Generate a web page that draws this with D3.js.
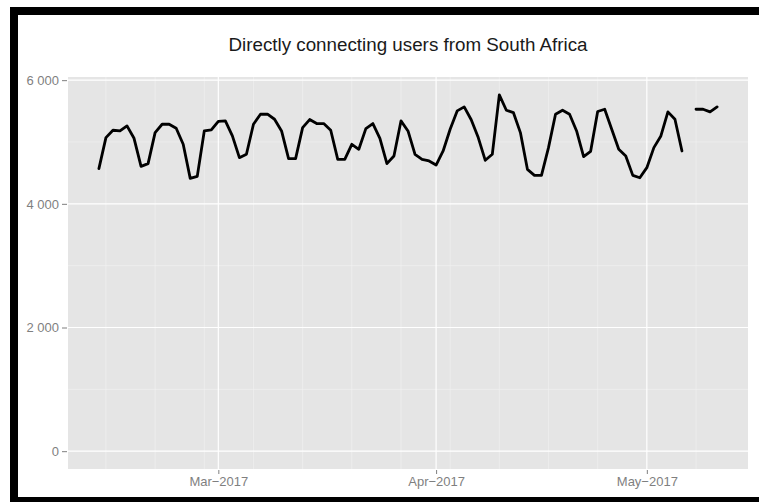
<!DOCTYPE html>
<html>
<head>
<meta charset="utf-8">
<script src="https://cdn.jsdelivr.net/npm/d3@7"></script>
<style>
  html, body { margin: 0; padding: 0; background: #fff; }
  svg { display: block; font-family: "Liberation Sans", Arial, sans-serif; }
</style>
</head>
<body>
<svg id="chart" width="759" height="502"></svg>
<script>
// Daily count of directly connecting users from South Africa, starting 2017-02-12.
// null marks a day with no measurement (the line breaks there).
const firstDay = "2017-02-12";
const users = [
  4569, 5071, 5190, 5179, 5260, 5060, 4606, 4650, 5152, 5287, 5287, 5222, 4963, 4412,
  4444, 5179, 5195, 5335, 5341, 5098, 4747, 4801, 5287, 5449, 5449, 5368, 5179, 4731,
  4731, 5233, 5363, 5298, 5298, 5190, 4720, 4720, 4963, 4882, 5217, 5298, 5060, 4650,
  4774, 5341, 5179, 4801, 4720, 4693, 4628, 4855, 5206, 5503, 5568, 5360, 5071, 4704,
  4801, 5763, 5514, 5476, 5152, 4558, 4460, 4460, 4909, 5449, 5514, 5449, 5179, 4763,
  4850, 5493, 5530, 5206, 4882, 4774, 4460, 4422, 4585, 4909, 5098, 5487, 5368, 4855,
  null, 5530, 5530, 5487, 5568
];
const yMajorTicks = [0, 2000, 4000, 6000];
const yMinorTicks = [1000, 3000, 5000];
const xMonthTicks = ["2017-03-01", "2017-04-01", "2017-05-01"];
const xWeekTicks = ["2017-02-13", "2017-02-20", "2017-02-27", "2017-03-06", "2017-03-13",
  "2017-03-20", "2017-03-27", "2017-04-03", "2017-04-10", "2017-04-17", "2017-04-24",
  "2017-05-08"];
const chartTitle = "Directly connecting users from South Africa";

const parse = d3.utcParse("%Y-%m-%d");
const start = parse(firstDay);
const series = users.map((v, i) => ({ date: d3.utcDay.offset(start, i), v }));

const svg = d3.select("#chart");
const W = 759, H = 502;

// outer frame
svg.append("rect").attr("width", W).attr("height", H).attr("fill", "#fff");
svg.append("rect")
  .attr("x", 14).attr("y", 11).attr("width", 780).attr("height", 490)
  .attr("fill", "#fff").attr("stroke", "#000").attr("stroke-width", 8);

const panel = { left: 68, right: 748, top: 77, bottom: 469 };

// ggplot-style 5% expansion around the data (y limits include zero)
const xExt = d3.extent(series, d => d.date);
const xPad = (xExt[1] - xExt[0]) * 0.05;
const x = d3.scaleUtc()
  .domain([new Date(+xExt[0] - xPad), new Date(+xExt[1] + xPad)])
  .range([panel.left, panel.right]);

const yMax = d3.max(users);
const yPad = yMax * 0.05;
const y = d3.scaleLinear()
  .domain([-yPad, yMax + yPad])
  .range([panel.bottom, panel.top]);

// panel background
svg.append("rect")
  .attr("x", panel.left).attr("y", panel.top)
  .attr("width", panel.right - panel.left).attr("height", panel.bottom - panel.top)
  .attr("fill", "#e5e5e5");

const grid = svg.append("g");
// minor grid
grid.selectAll(".hmin").data(yMinorTicks).join("line")
  .attr("x1", panel.left).attr("x2", panel.right)
  .attr("y1", d => y(d)).attr("y2", d => y(d))
  .attr("stroke", "#f2f2f2").attr("stroke-width", 0.6);
grid.selectAll(".vmin").data(xWeekTicks.map(parse)).join("line")
  .attr("y1", panel.top).attr("y2", panel.bottom)
  .attr("x1", d => x(d)).attr("x2", d => x(d))
  .attr("stroke", "#f2f2f2").attr("stroke-width", 0.6);
// major grid
grid.selectAll(".hmaj").data(yMajorTicks).join("line")
  .attr("x1", panel.left).attr("x2", panel.right)
  .attr("y1", d => y(d)).attr("y2", d => y(d))
  .attr("stroke", "#fff").attr("stroke-width", 1.2);
grid.selectAll(".vmaj").data(xMonthTicks.map(parse)).join("line")
  .attr("y1", panel.top).attr("y2", panel.bottom)
  .attr("x1", d => x(d)).attr("x2", d => x(d))
  .attr("stroke", "#fff").attr("stroke-width", 1.2);

// data line
const line = d3.line()
  .defined(d => d.v != null)
  .x(d => x(d.date))
  .y(d => y(d.v));
svg.append("path")
  .datum(series)
  .attr("d", line)
  .attr("fill", "none")
  .attr("stroke", "#000")
  .attr("stroke-width", 2.8)
  .attr("stroke-linejoin", "round")
  .attr("stroke-linecap", "round");

// axes
const loc = d3.formatLocale({ decimal: ".", thousands: " ", grouping: [3], currency: ["", ""] });
const fmtNum = loc.format(",d");
const yAxis = d3.axisLeft(y).tickValues(yMajorTicks).tickFormat(fmtNum)
  .tickSizeInner(5).tickSizeOuter(0).tickPadding(3);
const gy = svg.append("g").attr("transform", `translate(${panel.left - 1},0)`).call(yAxis);

const monthFmt = d3.utcFormat("%b");
const yearFmt = d3.utcFormat("%Y");
const xAxis = d3.axisBottom(x).tickValues(xMonthTicks.map(parse))
  .tickFormat(d => monthFmt(d) + "\u2212" + yearFmt(d))
  .tickSizeInner(4).tickSizeOuter(0).tickPadding(3);
const gx = svg.append("g").attr("transform", `translate(0,${panel.bottom + 1})`).call(xAxis);

[gx, gy].forEach(g => {
  g.select(".domain").remove();
  g.selectAll(".tick line").attr("stroke", "#7f7f7f").attr("stroke-width", 1);
  g.selectAll(".tick text").attr("fill", "#7f7f7f").style("font-size", "13px")
    .style("font-family", "'Liberation Sans', Arial, sans-serif");
});

// title
svg.append("text")
  .attr("x", (panel.left + panel.right) / 2).attr("y", 51)
  .attr("text-anchor", "middle")
  .style("font-size", "18.8px")
  .attr("fill", "#1a1a1a")
  .text(chartTitle);
</script>
</body>
</html>
